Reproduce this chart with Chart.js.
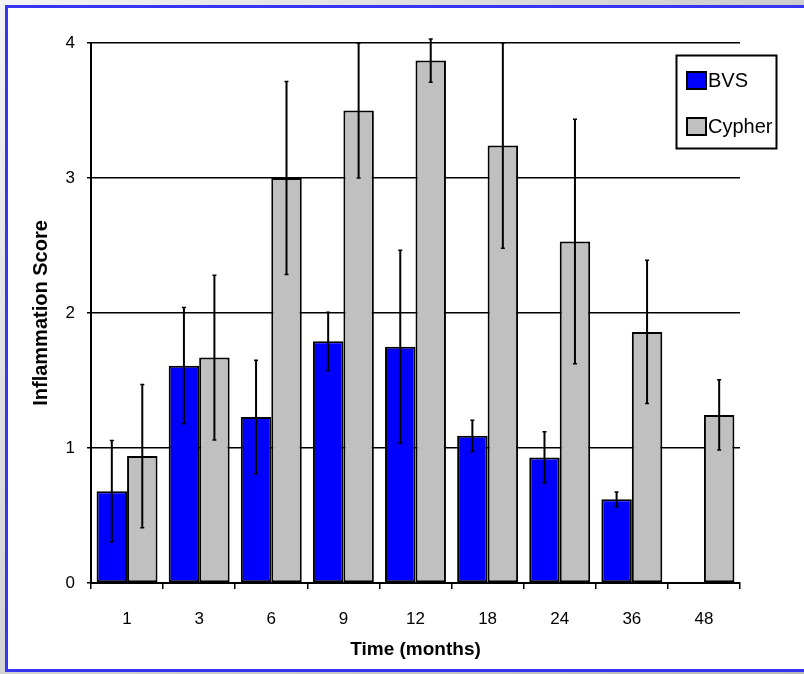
<!DOCTYPE html>
<html>
<head>
<meta charset="utf-8">
<script src="https://cdn.jsdelivr.net/npm/chart.js@4.4.0/dist/chart.umd.min.js"></script>
<style>
  html, body { margin: 0; padding: 0; }
  body {
    width: 804px; height: 674px; overflow: hidden; position: relative;
    background: linear-gradient(135deg, #f4f4f4 0%, #d0d0d0 50%, #b8b8b8 100%);
  }
  #frame {
    position: absolute; left: 5px; top: 5px; width: 830px; height: 661px;
    border: 3px solid #3535f5; background: #fff;
  }
  #chart { position: absolute; left: 0; top: 0; }
</style>
</head>
<body>
<div id="frame"></div>
<canvas id="chart" width="804" height="674"></canvas>
<script>
const months = ['1', '3', '6', '9', '12', '18', '24', '36', '48'];
const bvsScores = [0.68, 1.61, 1.23, 1.79, 1.75, 1.09, 0.93, 0.62, 0];
const bvsErrors = [0.375, 0.43, 0.42, 0.215, 0.715, 0.115, 0.19, 0.055, 0];
const cypherScores = [0.94, 1.67, 3.0, 3.5, 3.87, 3.24, 2.53, 1.86, 1.245];
const cypherErrors = [0.53, 0.61, 0.715, 0.5, 0.16, 0.76, 0.905, 0.53, 0.26];
const yTicks = [0, 1, 2, 3, 4];

const font = '"Liberation Sans", Arial, sans-serif';

// error bars, drawn on top of the bars through the y scale
const errorBars = {
  id: 'errorBars',
  afterDatasetsDraw(chart) {
    const ctx = chart.ctx;
    const y = chart.scales.y;
    const errs = [bvsErrors, cypherErrors];
    ctx.save();
    ctx.strokeStyle = '#000';
    chart.data.datasets.forEach((ds, di) => {
      chart.getDatasetMeta(di).data.forEach((bar, i) => {
        const v = ds.data[i];
        const e = errs[di][i];
        const top = y.getPixelForValue(v + e);
        const bot = y.getPixelForValue(v - e);
        ctx.lineWidth = 2;
        ctx.beginPath();
        ctx.moveTo(bar.x, top);
        ctx.lineTo(bar.x, bot);
        ctx.stroke();
        ctx.lineWidth = 1.5;
        ctx.beginPath();
        ctx.moveTo(bar.x - 2, top);
        ctx.lineTo(bar.x + 2, top);
        ctx.moveTo(bar.x - 2, bot);
        ctx.lineTo(bar.x + 2, bot);
        ctx.stroke();
      });
    });
    ctx.restore();
  }
};

// boxed legend in the top right corner
const boxLegend = {
  id: 'boxLegend',
  afterDraw(chart) {
    const ctx = chart.ctx;
    ctx.save();
    ctx.fillStyle = '#fff';
    ctx.fillRect(676, 55, 101, 94);
    ctx.strokeStyle = '#000';
    ctx.lineWidth = 2;
    ctx.strokeRect(676.5, 55.5, 100, 93);
    ctx.font = '20px ' + font;
    ctx.textBaseline = 'middle';
    chart.data.datasets.forEach((ds, i) => {
      const cy = 80 + i * 46;
      ctx.fillStyle = ds.backgroundColor;
      ctx.fillRect(687, cy - 8, 19, 17);
      ctx.strokeRect(687, cy - 8, 19, 17);
      ctx.fillStyle = '#000';
      ctx.fillText(ds.label, 708, cy + 1);
    });
    ctx.restore();
  }
};

new Chart(document.getElementById('chart'), {
  type: 'bar',
  data: {
    labels: months,
    datasets: [
      {
        label: 'BVS',
        data: bvsScores,
        backgroundColor: '#0000ff',
        borderColor: '#000',
        borderWidth: 2,
        borderSkipped: false,
        categoryPercentage: 0.845,
        barPercentage: 1.0
      },
      {
        label: 'Cypher',
        data: cypherScores,
        backgroundColor: '#c0c0c0',
        borderColor: '#000',
        borderWidth: 2,
        borderSkipped: false,
        categoryPercentage: 0.845,
        barPercentage: 1.0
      }
    ]
  },
  options: {
    responsive: false,
    animation: false,
    devicePixelRatio: 1,
    layout: { padding: { left: 0, top: 43, right: 64, bottom: 0 } },
    plugins: {
      legend: { display: false },
      tooltip: { enabled: false }
    },
    scales: {
      x: {
        grid: { drawOnChartArea: false, drawTicks: true, tickLength: 6, color: '#000', lineWidth: 1.5 },
        border: { color: '#000', width: 2 },
        ticks: { color: '#000', padding: 20, font: { family: font, size: 17 } },
        title: {
          display: true,
          text: 'Time (months)',
          color: '#000',
          font: { family: font, size: 19, weight: 'bold' },
          padding: { top: 0, bottom: 13 }
        },
        afterFit: (scale) => { scale.height = 91; }
      },
      y: {
        min: 0,
        max: 4,
        afterBuildTicks: (scale) => { scale.ticks = yTicks.map(v => ({ value: v })); },
        grid: { color: '#000', lineWidth: 1.5, tickLength: 4 },
        border: { color: '#000', width: 2 },
        ticks: { color: '#000', padding: 12, font: { family: font, size: 17 } },
        title: {
          display: true,
          text: 'Inflammation Score',
          color: '#000',
          font: { family: font, size: 20, weight: 'bold' },
          padding: { top: 29, bottom: 0 }
        },
        afterFit: (scale) => { scale.width = 91; }
      }
    }
  },
  plugins: [errorBars, boxLegend]
});
</script>
</body>
</html>
